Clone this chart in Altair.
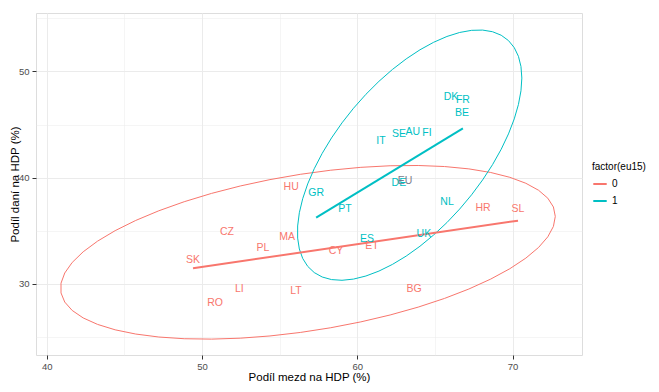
import numpy as np
import pandas as pd
import altair as alt

# ---- data ----
countries = ["SK", "CZ", "PL", "MA", "CY", "ET", "LI", "LT", "RO", "BG", "HR", "SL", "HU",
             "GR", "PT", "IT", "SE", "AU", "FI", "DK", "FR", "BE", "DE", "NL", "ES", "UK", "EU"]
wage_share = [49.42, 51.61, 53.93, 55.48, 58.63, 60.95, 52.40, 56.05, 50.84, 63.65, 68.10, 70.35, 55.74,
              57.35, 59.20, 61.52, 62.68, 63.58, 64.49, 66.03, 66.80, 66.74, 62.68, 65.78, 60.63, 64.29, 63.07]
tax_share = [32.26, 34.89, 33.39, 34.42, 33.10, 33.57, 29.50, 29.33, 28.20, 29.50, 37.15, 37.05, 39.12,
             38.55, 37.05, 43.45, 44.10, 44.30, 44.20, 47.60, 47.30, 46.10, 39.50, 37.70, 34.23, 34.70, 39.70]
eu15 = ["0"] * 13 + ["1"] * 13 + ["NA"]

x_ticks = [40, 45, 50, 55, 60, 65, 70]
y_ticks = [25, 30, 35, 40, 45, 50, 55]

df = pd.DataFrame({"country": countries, "x": wage_share, "y": tax_share, "eu15": eu15})
grp = df[df.eu15 != "NA"].copy()
eu_only = df[df.eu15 == "NA"].copy()


# ---- stat_ellipse (type = "t", level = 0.95) as in ggplot2, MASS::cov.trob ----
def cov_trob(X, nu=5, maxit=25, tol=0.01):
    n, p = X.shape
    wt = np.ones(n)
    loc = X.mean(axis=0)
    w = np.sqrt(wt)
    Xc = X - loc
    for _ in range(maxit):
        w0 = w
        Xc = X - loc
        _, d, Vt = np.linalg.svd(np.sqrt(w / w.sum())[:, None] * Xc, full_matrices=False)
        wX = Xc @ Vt.T @ np.diag(1.0 / d)
        Q = (wX ** 2).sum(axis=1)
        w = wt * (nu + p) / (nu + Q)
        loc = (w[:, None] * X).sum(axis=0) / w.sum()
        if np.all(np.abs(w - w0) < tol):
            break
    sw = np.sqrt(w)[:, None] * Xc
    return sw.T @ sw / wt.sum(), loc


def ellipse(X, level=0.95, segments=51):
    n = X.shape[0]
    dfd = n - 1
    fq = (dfd / 2.0) * ((1 - level) ** (-2.0 / dfd) - 1)  # qf(level, 2, dfd)
    radius = np.sqrt(2 * fq)
    cov, center = cov_trob(X)
    R = np.linalg.cholesky(cov).T
    ang = np.arange(segments + 1) * 2 * np.pi / segments
    circ = np.column_stack([np.cos(ang), np.sin(ang)])
    return center + radius * (circ @ R)


ell_rows = []
for g in ["0", "1"]:
    sub = grp[grp.eu15 == g][["x", "y"]].to_numpy()
    e = ellipse(sub)
    for i, (ex, ey) in enumerate(e):
        ell_rows.append({"x": ex, "y": ey, "eu15": g, "i": i})
ell = pd.DataFrame(ell_rows)

red, cyan = "#F8766D", "#00BFC4"
color = alt.Color("eu15:N", scale=alt.Scale(domain=["0", "1"], range=[red, cyan]),
                  legend=alt.Legend(title="factor(eu15)", symbolType="stroke", symbolStrokeWidth=2,
                                    symbolSize=180, labelFontSize=10, titleFontSize=10,
                                    titleFontWeight="normal", titleColor="#000", labelColor="#000",
                                    orient="none", legendX=556, legendY=149,
                                    padding=0, titlePadding=4, rowPadding=4,
                                    labelFont="Liberation Sans", titleFont="Liberation Sans"))

cond_tick = {"condition": {"test": "datum.value % 10 == 0", "value": 1}, "value": 0}
cond_grid = {"condition": {"test": "datum.value % 10 == 0", "value": 1}, "value": 0.5}

xs = alt.Scale(domain=[39.31, 74.47], nice=False, zero=False)
ys = alt.Scale(domain=[23.3, 55.5], nice=False, zero=False)

x_enc = alt.X("x:Q", scale=xs,
              axis=alt.Axis(title="Podíl mezd na HDP (%)", values=x_ticks,
                            labelExpr="datum.value % 10 == 0 ? datum.label : ''",
                            tickOpacity=cond_tick, gridWidth=cond_grid, gridColor="#ebebeb",
                            tickColor="#333", tickSize=4, labelPadding=2, labelColor="#4d4d4d",
                            labelFontSize=9.5, titleFontSize=11.5, titleFontWeight="normal",
                            titleColor="#000", titlePadding=1, domain=False))
y_enc = alt.Y("y:Q", scale=ys,
              axis=alt.Axis(title="Podíl daní na HDP (%)", values=y_ticks,
                            labelExpr="datum.value % 10 == 0 ? datum.label : ''",
                            tickOpacity=cond_tick, gridWidth=cond_grid, gridColor="#ebebeb",
                            tickColor="#333", tickSize=4, labelPadding=3, labelColor="#4d4d4d",
                            labelFontSize=9.5, titleFontSize=11.5, titleFontWeight="normal",
                            titleColor="#000", titleX=-21, titleY=171, titleBaseline="middle",
                            domain=False))

base_grp = alt.Chart(grp)

ell_chart = alt.Chart(ell).mark_line(strokeWidth=1, interpolate="linear").encode(
    x=x_enc, y=y_enc, color=color, order="i:Q", detail="eu15:N")

reg = base_grp.transform_regression("x", "y", groupby=["eu15"]).mark_line(strokeWidth=2).encode(
    x="x:Q", y="y:Q", color=color)

texts = base_grp.mark_text(fontSize=10.5, align="center", baseline="middle").encode(
    x="x:Q", y="y:Q", text="country:N", color=color)

eu_text = alt.Chart(eu_only).mark_text(fontSize=10.5, align="center", baseline="middle",
                                       color="#7a7a8a").encode(x="x:Q", y="y:Q", text="country:N")

chart = alt.layer(ell_chart, reg, texts, eu_text).properties(
    width=546, height=342,
    autosize=alt.AutoSizeParams(type="none"),
    padding={"left": 28, "top": 5, "right": 69, "bottom": 29},
).configure_view(stroke="#777", strokeWidth=1.2).configure(
    font="Liberation Sans"
).configure_axis(labelFont="Liberation Sans", titleFont="Liberation Sans")

chart.save("out.html", embed_options={"renderer": "svg", "actions": False})
